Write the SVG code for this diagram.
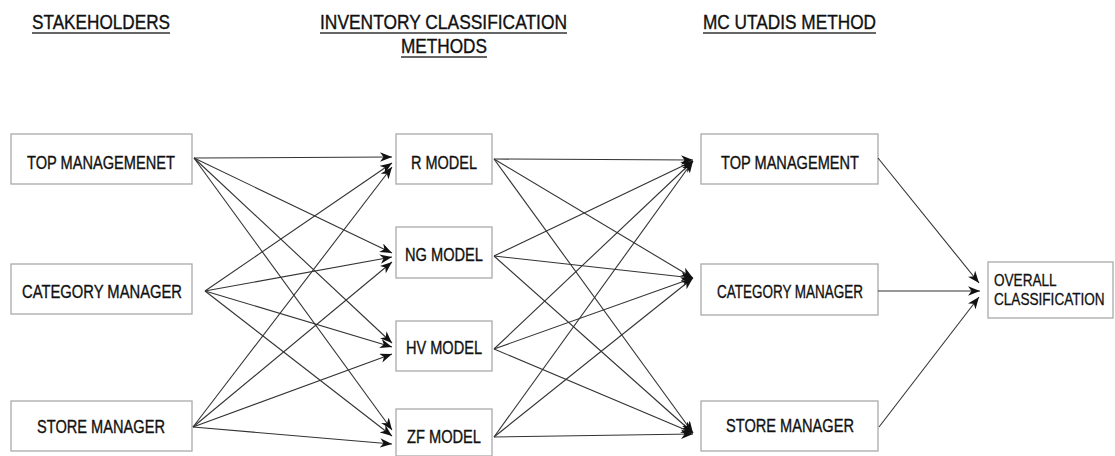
<svg xmlns="http://www.w3.org/2000/svg" width="1115" height="456" viewBox="0 0 1115 456">
<defs>
<marker id="ah" markerUnits="userSpaceOnUse" markerWidth="13" markerHeight="10" refX="12" refY="4.75" orient="auto">
<path d="M0,0 L12,4.75 L0,9.5 L3.5,4.75 Z" fill="#111"/>
</marker>
<style>
.box{fill:#fff;stroke:#aaa;stroke-width:1.3}
.lbl{font-family:"Liberation Sans",Arial,sans-serif;font-size:18px;fill:#111;stroke:#111;stroke-width:0.35}
.sm{font-family:"Liberation Sans",Arial,sans-serif;font-size:16px;fill:#111;stroke:#111;stroke-width:0.3}
.hd{font-family:"Liberation Sans",Arial,sans-serif;font-size:19.5px;fill:#111;stroke:#111;stroke-width:0.35}
.ul{stroke:#333;stroke-width:1.6}
.c line{stroke:#333;stroke-width:1.1;marker-end:url(#ah)}
</style>
</defs>
<rect width="1115" height="456" fill="#fff"/>
<g id="headers">
<text class="hd" x="32" y="29" textLength="138" lengthAdjust="spacingAndGlyphs">STAKEHOLDERS</text>
<line class="ul" x1="32" y1="33" x2="170" y2="33"/>
<text class="hd" x="320" y="29" textLength="247" lengthAdjust="spacingAndGlyphs">INVENTORY CLASSIFICATION</text>
<line class="ul" x1="320" y1="33" x2="567" y2="33"/>
<text class="hd" x="401" y="53" textLength="86" lengthAdjust="spacingAndGlyphs">METHODS</text>
<line class="ul" x1="401" y1="57" x2="487" y2="57"/>
<text class="hd" x="703" y="29" textLength="173" lengthAdjust="spacingAndGlyphs">MC UTADIS METHOD</text>
<line class="ul" x1="703" y1="33" x2="876" y2="33"/>
</g>
<g id="s-top"><rect class="box" x="11" y="134" width="181" height="50"/><text class="lbl" x="27" y="169" textLength="148" lengthAdjust="spacingAndGlyphs">TOP MANAGEMENET</text></g>
<g id="s-cat"><rect class="box" x="11" y="264" width="181" height="50"/><text class="lbl" x="22" y="298" textLength="160" lengthAdjust="spacingAndGlyphs">CATEGORY MANAGER</text></g>
<g id="s-store"><rect class="box" x="11" y="401" width="181" height="50"/><text class="lbl" x="37" y="433" textLength="128" lengthAdjust="spacingAndGlyphs">STORE MANAGER</text></g>
<g id="m-r"><rect class="box" x="396" y="134" width="96" height="50"/><text class="lbl" x="411" y="169" textLength="66" lengthAdjust="spacingAndGlyphs">R MODEL</text></g>
<g id="m-ng"><rect class="box" x="396" y="227" width="96" height="51"/><text class="lbl" x="405" y="261" textLength="78" lengthAdjust="spacingAndGlyphs">NG MODEL</text></g>
<g id="m-hv"><rect class="box" x="396" y="321" width="96" height="50"/><text class="lbl" x="406" y="354" textLength="76" lengthAdjust="spacingAndGlyphs">HV MODEL</text></g>
<g id="m-zf"><rect class="box" x="396" y="409" width="96" height="47"/><text class="lbl" x="407" y="443" textLength="74" lengthAdjust="spacingAndGlyphs">ZF MODEL</text></g>
<g id="r-top"><rect class="box" x="701" y="134" width="177" height="50"/><text class="lbl" x="721" y="169" textLength="138" lengthAdjust="spacingAndGlyphs">TOP MANAGEMENT</text></g>
<g id="r-cat"><rect class="box" x="701" y="264" width="177" height="51"/><text class="lbl" x="717" y="298" textLength="146" lengthAdjust="spacingAndGlyphs">CATEGORY MANAGER</text></g>
<g id="r-store"><rect class="box" x="701" y="401" width="177" height="50"/><text class="lbl" x="726" y="432" textLength="128" lengthAdjust="spacingAndGlyphs">STORE MANAGER</text></g>
<g id="overall"><rect class="box" x="988" y="262" width="125" height="56"/>
<g transform="translate(994,0) scale(0.85,1)"><text class="sm" x="0" y="286">OVERALL</text><text class="sm" x="0" y="305">CLASSIFICATION</text></g></g>
<g id="connectors" class="c">
<line x1="194" y1="158" x2="392" y2="157"/>
<line x1="194" y1="158" x2="392" y2="253"/>
<line x1="194" y1="158" x2="392" y2="343"/>
<line x1="194" y1="158" x2="392" y2="430"/>
<line x1="205" y1="291" x2="392" y2="163"/>
<line x1="205" y1="291" x2="392" y2="257"/>
<line x1="205" y1="291" x2="392" y2="347"/>
<line x1="205" y1="291" x2="392" y2="436"/>
<line x1="193" y1="427" x2="392" y2="167"/>
<line x1="193" y1="427" x2="392" y2="262"/>
<line x1="193" y1="427" x2="392" y2="354"/>
<line x1="193" y1="427" x2="392" y2="444"/>
<line x1="494" y1="159" x2="693" y2="160"/>
<line x1="494" y1="159" x2="693" y2="278"/>
<line x1="494" y1="159" x2="693" y2="433"/>
<line x1="494" y1="256" x2="693" y2="161"/>
<line x1="494" y1="256" x2="693" y2="278"/>
<line x1="494" y1="256" x2="693" y2="433"/>
<line x1="494" y1="349" x2="693" y2="161"/>
<line x1="494" y1="349" x2="693" y2="278"/>
<line x1="494" y1="349" x2="693" y2="433"/>
<line x1="494" y1="437" x2="693" y2="161"/>
<line x1="494" y1="437" x2="693" y2="278"/>
<line x1="494" y1="437" x2="693" y2="434"/>
<line x1="878" y1="158" x2="979" y2="283"/>
<line x1="878" y1="291" x2="980" y2="291"/>
<line x1="879" y1="427" x2="979" y2="297"/>
</g>
</svg>
